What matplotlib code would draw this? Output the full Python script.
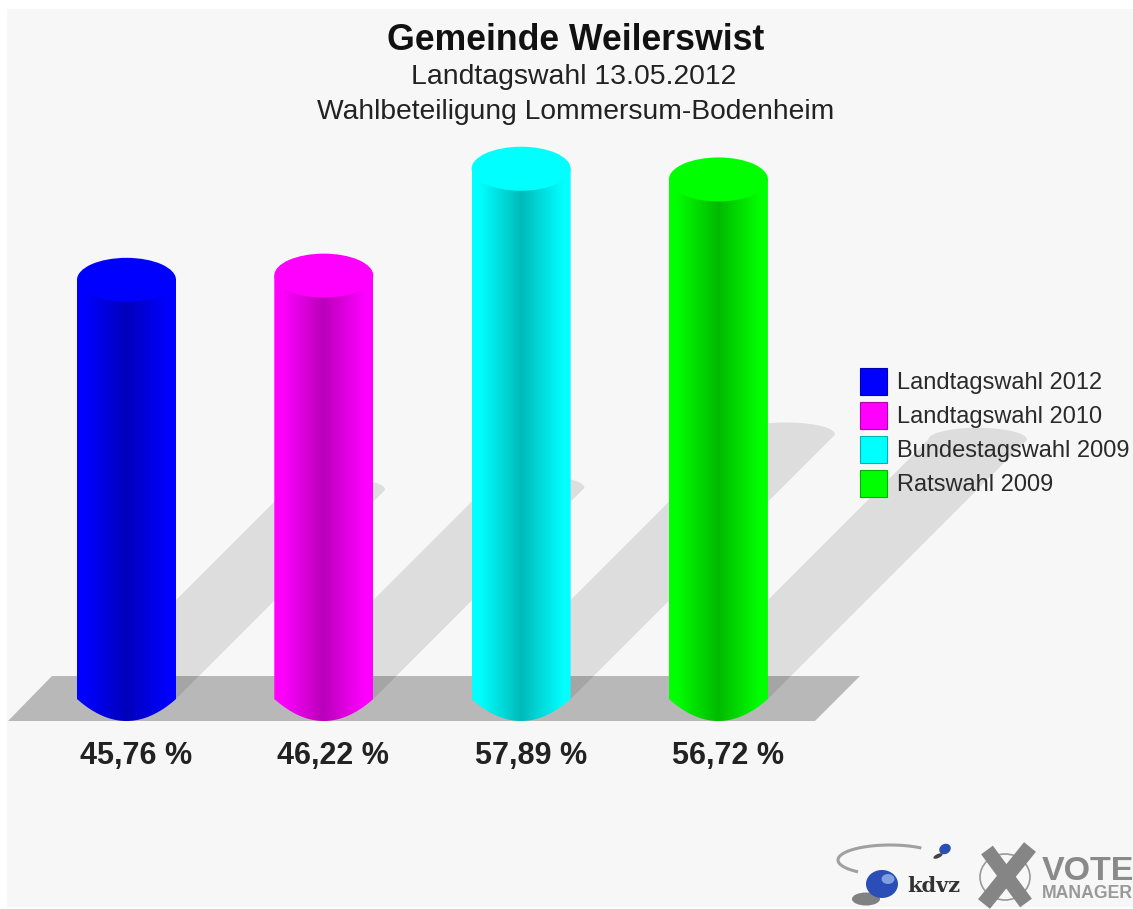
import numpy as np
import matplotlib
matplotlib.use("Agg")
import matplotlib.pyplot as plt
from matplotlib.patches import Polygon, Rectangle, Ellipse, Patch
from matplotlib.transforms import Affine2D

# data
elections = ['Landtagswahl 2012', 'Landtagswahl 2010', 'Bundestagswahl 2009', 'Ratswahl 2009']
turnout = [45.76, 46.22, 57.89, 56.72]
value_labels = ['45,76 %', '46,22 %', '57,89 %', '56,72 %']
rgb = [(0, 0, 1), (1, 0, 1), (0, 1, 1), (0, 1, 0)]

# scale of the picture
W, H = 1133, 909
x_zero, x_step = 126.5, 197.3   # px of first bar, px per bar
y_zero, y_step = 699, 9.16      # px of 0 %, px per %
half_w = 49.5 / x_step
cap = 22 / y_step
foot = 22 / y_step
shadow_px = 4.57                # shadow shift in px per %

plt.rcParams['font.family'] = ['Liberation Sans', 'DejaVu Sans']

fig = plt.figure(figsize=(W / 100, H / 100), dpi=100, facecolor='white')
ax = fig.add_axes([0, 0, 1, 1])
ax.axis('off')

# same picture in px, origin top left
px = Affine2D().scale(1, -1).translate(0, H)

ax.add_patch(Rectangle((7, 9), W - 7, 898, transform=px, fc='#f7f7f7', ec='none', zorder=0))
ax.add_patch(Polygon([(8, 721), (52, 676), (860, 676), (815, 721)], transform=px,
                     fc='#b8b8b8', ec='none', zorder=1))

t = np.linspace(-1, 1, 121)
for i, v in enumerate(turnout):
    # shadow, the bar sheared up to the right
    s = v * shadow_px
    sx, sy = s / x_step, s / y_step
    arc_x = i + sx + half_w * t[::-1]
    arc_y = sy + 12 / y_step * np.sqrt(1 - t ** 2)
    pts = [(i - half_w, 0), (i + half_w, 0)] + list(zip(arc_x, arc_y))
    ax.add_patch(Polygon(pts, fc=(0, 0, 0, 0.1), ec='none', zorder=2))

    # body with a dark stripe in the middle
    edge = [(i - half_w, v)] + [(i - half_w, 0)]
    bottom = list(zip(i + half_w * t, -foot * (1 - t ** 2)))
    outline = edge + bottom + [(i + half_w, v)]
    body = Polygon(outline, fc='none', ec='none', transform=ax.transData)
    ax.add_patch(body)
    shade = np.interp(np.abs(np.linspace(-1, 1, 200)), [0, 0.85, 1], [0.73, 1, 1])
    grad = np.zeros((1, 200, 3))
    for c in range(3):
        grad[0, :, c] = rgb[i][c] * shade
    img = ax.imshow(grad, extent=(i - half_w, i + half_w, -foot, v), aspect='auto',
                    zorder=3, interpolation='bilinear')
    img.set_clip_path(body)

    # top
    ax.add_patch(Ellipse((i, v), 2 * half_w, 2 * cap, fc=rgb[i], ec='none', zorder=4))

    ax.text(i + 9.5 / x_step, -65 / y_step, value_labels[i], ha='center', va='baseline',
            fontsize=22, fontweight='bold', color='#222222', zorder=5)

ax.set_xlim(-x_zero / x_step, (W - x_zero) / x_step)
ax.set_ylim(-(H - y_zero) / y_step, y_zero / y_step)

# titles
ax.text(576, 50, 'Gemeinde Weilerswist', transform=px, ha='center', va='baseline',
        fontsize=25.7, fontweight='bold', color='#111111', zorder=6)
ax.text(574, 84, 'Landtagswahl 13.05.2012', transform=px, ha='center', va='baseline',
        fontsize=20.4, color='#222222', zorder=6)
ax.text(575.5, 119, 'Wahlbeteiligung Lommersum-Bodenheim', transform=px, ha='center', va='baseline',
        fontsize=20.3, color='#222222', zorder=6)

# legend
handles = [Patch(fc=c, ec=tuple(0.7 * x for x in c), lw=0.8, label=n) for c, n in zip(rgb, elections)]
leg = ax.legend(handles=handles, loc='upper left', bbox_to_anchor=(860 / W, 1 - 368 / H),
                frameon=False, fontsize=17, handlelength=1.14, handleheight=1.35,
                handletextpad=0.42, labelspacing=0.32, borderpad=0, borderaxespad=0)
leg.set_zorder(7)
for txt in leg.get_texts():
    txt.set_color('#2a2a2a')

# kdvz logo
swoosh = np.radians(np.linspace(55, 230, 60))
ax.plot(890 + 52 * np.cos(swoosh), 860 - 15 * np.sin(swoosh), transform=px,
        color='#a0a0a0', lw=2.2, zorder=5)
ax.add_patch(Ellipse((866, 899), 28, 13, transform=px, fc='#333333', ec='none', alpha=0.6, zorder=5))
ax.add_patch(Ellipse((882, 884), 32, 28, transform=px, fc='#2a4db8', ec='none', zorder=6))
ax.add_patch(Ellipse((888, 879), 13, 10, transform=px, fc='#7f9fdf', ec='none', zorder=6))
ax.add_patch(Ellipse((945, 849), 12, 10, angle=-30, transform=px, fc='#2a4fb0', ec='none', zorder=6))
ax.add_patch(Ellipse((938, 856), 10, 4, angle=-25, transform=px, fc='#444444', ec='none', zorder=5))
ax.text(907, 892, 'kdvz', transform=px, family=['DejaVu Serif'], fontweight='bold',
        fontsize=15, color='#333333', zorder=6)

# vote manager logo
ax.add_patch(Ellipse((1005, 877), 50, 46, transform=px, fc='none', ec='#999999', lw=1.2, zorder=5))
ax.plot([987, 1026], [850, 903], transform=px, color='#858585', lw=10.5, solid_capstyle='butt', zorder=6)
ax.plot([1030, 984], [847, 904], transform=px, color='#858585', lw=11, solid_capstyle='butt', zorder=6)
ax.text(1042, 880, 'VOTE', transform=px, fontweight='bold', fontsize=24.5, color='#8a8a8a', zorder=6)
ax.text(1042, 898, 'MANAGER', transform=px, fontweight='bold', fontsize=12.7, color='#999999', zorder=6)

fig.savefig('out.png', dpi=100, facecolor='white')
